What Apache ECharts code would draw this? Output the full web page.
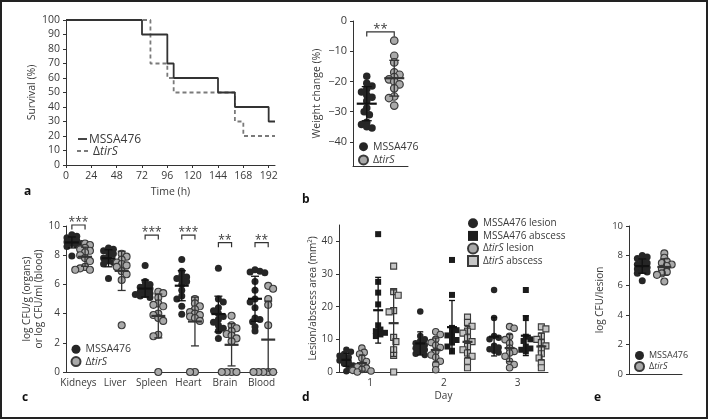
<!DOCTYPE html>
<html><head><meta charset="utf-8">
<script src="https://cdn.jsdelivr.net/npm/echarts@6/dist/echarts.min.js"></script>
<style>html,body{margin:0;padding:0;background:#fff}#c{width:708px;height:419px}</style>
</head><body><div id="c"></div>
<script>
// ---------- Panel a: survival ----------
const survTimeMSSA = [0, 72, 96, 102, 144, 160, 192, 198];
const survMSSA     = [100, 90, 70, 60, 50, 40, 30, 30];
const survTimeTirS = [0, 80, 96, 102, 160, 168, 198];
const survTirS     = [100, 70, 60, 50, 30, 20, 20];
const timeTicks    = [0, 24, 48, 72, 96, 120, 144, 168, 192];
// ---------- Panel b: weight change ----------
const weightMSSA = [-18.3, -20.6, -21.5, -22.5, -23.5, -24.5, -25.2, -26.5, -28.8, -30.0, -31.0, -33.5, -34.3, -35.0, -35.4];
const weightTirS = [-6.5, -11.5, -13.7, -17.0, -17.8, -18.6, -19.3, -20.0, -21.0, -22.3, -25.0, -25.5, -28.0];
const weightTicks = [0, -10, -20, -30, -40];
// ---------- Panel c: organ CFU ----------
const organs = ['Kidneys', 'Liver', 'Spleen', 'Heart', 'Brain', 'Blood'];
const cfuMSSA = [
  [9.4, 9.3, 9.2, 9.1, 9.0, 9.0, 8.9, 8.8, 8.8, 8.7, 8.6, 8.6, 7.95],
  [8.5, 8.4, 8.3, 8.2, 8.1, 7.9, 7.8, 7.6, 7.5, 7.4, 7.4, 6.4],
  [7.3, 6.2, 6.0, 5.9, 5.8, 5.7, 5.6, 5.5, 5.4, 5.3, 5.3, 5.2, 5.1],
  [7.7, 6.9, 6.6, 6.5, 6.4, 6.3, 6.2, 6.0, 5.6, 5.2, 5.0, 4.5, 3.95],
  [7.1, 5.0, 4.8, 4.4, 4.2, 4.0, 3.8, 3.6, 3.4, 3.2, 3.0, 2.8, 2.3],
  [7.0, 6.9, 6.85, 6.8, 6.2, 5.6, 5.0, 4.8, 4.4, 3.7, 3.6, 3.45, 3.1, 2.8]
];
const cfuTirS = [
  [8.8, 8.7, 8.5, 8.4, 8.3, 8.2, 8.0, 7.8, 7.6, 7.2, 7.1, 7.0, 7.0],
  [8.1, 7.9, 7.7, 7.5, 7.4, 7.3, 7.2, 6.9, 6.7, 6.3, 3.2],
  [5.5, 5.4, 5.1, 4.7, 4.6, 4.5, 4.0, 3.9, 3.7, 3.5, 2.55, 2.45, 0],
  [5.0, 4.7, 4.5, 4.3, 4.1, 4.0, 3.9, 3.8, 3.7, 3.5, 0, 0],
  [3.85, 3.2, 3.0, 2.8, 2.6, 2.5, 2.3, 2.1, 0, 0, 0, 0],
  [5.9, 5.7, 5.0, 4.6, 3.2, 0, 0, 0, 0, 0, 0]
];
const organSig = ['***', '', '***', '***', '**', '**'];
// ---------- Panel d: lesion / abscess area ----------
const days = [1, 2, 3];
const lesionMSSA = [
  [6.8, 6.2, 5.5, 5.0, 4.5, 4.0, 3.5, 3.0, 2.5, 2.0, 1.5, 0.2],
  [18.5, 11.0, 10.0, 9.5, 8.8, 8.3, 7.8, 7.3, 6.8, 6.2, 5.6, 5.2],
  [25.1, 16.5, 11.0, 10.5, 10.0, 8.0, 7.5, 7.0, 6.5, 6.0]
];
const abscessMSSA = [
  [42.2, 27.6, 24.3, 20.7, 14.3, 13.0, 12.5, 12.0, 11.5, 11.0],
  [34.3, 23.6, 13.5, 12.8, 12.0, 11.2, 10.5, 9.8, 9.0, 7.8, 6.5],
  [25.1, 16.5, 10.8, 10.0, 9.5, 7.8, 7.2, 6.8, 6.3]
];
const lesionTirS = [
  [7.3, 6.0, 5.5, 4.2, 3.2, 2.2, 1.6, 1.2, 0.8, 0.5, 0.3, 0.0],
  [12.3, 11.5, 10.0, 9.0, 8.2, 7.5, 6.3, 5.2, 4.5, 3.3, 2.3, 0.7],
  [13.9, 13.4, 10.9, 9.9, 8.8, 7.3, 6.3, 5.8, 4.8, 3.3, 2.3, 1.3]
];
const abscessTirS = [
  [32.4, 24.6, 23.5, 18.8, 18.4, 10.6, 9.3, 6.8, 5.1, 0],
  [16.8, 15.2, 14.0, 12.5, 11.9, 10.5, 9.3, 7.8, 6.8, 5.8, 4.8, 3.3, 1.3],
  [13.8, 13.2, 11.0, 10.0, 9.0, 8.0, 7.0, 5.6, 4.3, 2.8, 1.3]
];
const areaTicks = [0, 10, 20, 30, 40];
// ---------- Panel e: CFU per lesion ----------
const lesionCfuMSSA = [8.0, 7.9, 7.8, 7.6, 7.5, 7.4, 7.3, 7.2, 7.1, 7.0, 6.9, 6.8, 6.3];
const lesionCfuTirS = [8.15, 7.85, 7.6, 7.5, 7.4, 7.3, 7.1, 6.9, 6.8, 6.7, 6.25];

// ================= layout / style =================
const FONT = 'Open Sans';
const TXT = '#3a3a3a';
const AX = '#333';
const DARK = '#262626', GREY = '#a9a9a9', GREYSQ = '#c6c6c6', EDGE = '#3a3a3a';

const G = {
  a: {left: 66, top: 20, width: 209, height: 145},
  b: {left: 353, top: 21, width: 55, height: 145},
  c: {left: 66, top: 226, width: 211, height: 146},
  d: {left: 339, top: 225, width: 209, height: 147},
  e: {left: 629, top: 226, width: 53, height: 148}
};
const X = {b: [-0.5, 1.5], c: [-0.34, 5.42], d: [0.58, 3.41], e: [-0.6, 1.8]};
const Y = {b: [-48, 0], c: [0, 10], d: [0, 45], e: [0, 10]};
function kx(p) { return G[p].width / (X[p][1] - X[p][0]); }
function ky(p) { return G[p].height / (Y[p][1] - Y[p][0]); }

function mean(a) { return a.reduce((s, v) => s + v, 0) / a.length; }
function sd(a) { const m = mean(a); return Math.sqrt(a.reduce((s, v) => s + (v - m) * (v - m), 0) / (a.length - 1)); }

// beeswarm layout in pixel space (layout only; values untouched)
function swarm(vals, cx, p, d, tf) {
  const KX = kx(p), KY = ky(p);
  const order = vals.map((v, i) => i).sort((a, b) => vals[b] - vals[a]);
  const placed = [], out = [];
  const step = d * 0.35, thr = d * (tf || 0.7);
  let flip = 1;
  order.forEach(i => {
    const y = vals[i] * KY;
    let off = 0;
    for (let k = 0; k < 80; k++) {
      const o = k === 0 ? 0 : (k % 2 ? flip : -flip) * Math.ceil(k / 2) * step;
      if (placed.every(q => Math.hypot(q[0] - o, q[1] - y) >= thr)) { off = o; break; }
    }
    if (off !== 0) flip = -flip;
    placed.push([off, y]);
    out.push([cx + off / KX, vals[i]]);
  });
  return out;
}

function scatter(name, idx, pts, symbol, size, fill, border, bw) {
  return {type: 'scatter', name, xAxisIndex: idx, yAxisIndex: idx, data: pts, symbol, symbolSize: size,
    itemStyle: {color: fill, borderColor: border, borderWidth: bw, opacity: 1}, z: 3, silent: true};
}

function errbars(idx, items, color, meanHalf, capHalf, yFloor) {
  return {type: 'custom', xAxisIndex: idx, yAxisIndex: idx, data: items, clip: false, z: 6, silent: true,
    encode: {x: 0, y: 1},
    renderItem(params, api) {
      const x = api.value(0), m = api.value(1), s = api.value(2);
      const lo = Math.max(m - s, yFloor), hi = m + s;
      const pm = api.coord([x, m]), ph = api.coord([x, hi]), pl = api.coord([x, lo]);
      const st = {stroke: color, lineWidth: 1.3};
      const ch = [
        {type: 'line', shape: {x1: pm[0], y1: ph[1], x2: pm[0], y2: pl[1]}, style: st},
        {type: 'line', shape: {x1: pm[0] - capHalf, y1: ph[1], x2: pm[0] + capHalf, y2: ph[1]}, style: st},
        {type: 'line', shape: {x1: pm[0] - meanHalf, y1: pm[1], x2: pm[0] + meanHalf, y2: pm[1]}, style: {stroke: color, lineWidth: 2.2}}
      ];
      if (m - s > yFloor) ch.push({type: 'line', shape: {x1: pm[0] - capHalf, y1: pl[1], x2: pm[0] + capHalf, y2: pl[1]}, style: st});
      return {type: 'group', children: ch};
    }};
}

function brackets(idx, items, labels, fs) {
  return {type: 'custom', xAxisIndex: idx, yAxisIndex: idx, data: items, clip: false, z: 6, silent: true,
    encode: {x: 0, y: 2},
    renderItem(params, api) {
      const p1 = api.coord([api.value(0), api.value(2)]), p2 = api.coord([api.value(1), api.value(2)]);
      return {type: 'group', children: [
        {type: 'polyline', shape: {points: [[p1[0], p1[1] + 4.5], [p1[0], p1[1]], [p2[0], p2[1]], [p2[0], p2[1] + 4.5]]},
          style: {stroke: AX, lineWidth: 1.2, fill: null}},
        {type: 'text', x: (p1[0] + p2[0]) / 2, y: p1[1] + 4,
          style: {text: labels[params.dataIndex], fontSize: fs, fontFamily: FONT, fill: TXT, align: 'center', verticalAlign: 'bottom'}}
      ]};
    }};
}

function grid(p) { return Object.assign({outerBoundsMode: 'none', containLabel: false}, G[p]); }
function axisBase(idx, fs) {
  return {gridIndex: idx, axisLine: {show: true, onZero: false, lineStyle: {color: AX, width: 1}},
    axisTick: {show: true, length: 3, lineStyle: {color: AX}},
    axisLabel: {color: TXT, fontSize: fs, fontFamily: FONT},
    splitLine: {show: false},
    nameTextStyle: {color: TXT, fontFamily: FONT}};
}
function richName(fs) {
  return {it: {fontStyle: 'italic', fontSize: fs, fontFamily: FONT, color: TXT}};
}
function legendFmt(name) { return name.split('|')[0].replace('tirS', '{it|tirS}'); }
function legend(names, left, top, fs, lh, iw, ih) {
  return {data: names, orient: 'vertical', left, top, padding: 0, itemGap: 0, itemWidth: iw, itemHeight: ih,
    selectedMode: false, formatter: legendFmt,
    textStyle: {color: TXT, fontSize: fs, fontFamily: FONT, lineHeight: lh, rich: richName(fs)}};
}

// ================= axes =================
const xAxes = [
  Object.assign(axisBase(0, 10.5), {type: 'value', min: 0, max: 198, name: 'Time (h)', nameLocation: 'middle', nameGap: 22,
    nameTextStyle: {color: TXT, fontFamily: FONT, fontSize: 10.5},
    axisLabel: {color: TXT, fontSize: 10.5, fontFamily: FONT, margin: 6, customValues: timeTicks},
    axisTick: {show: true, length: 3, lineStyle: {color: AX}, customValues: timeTicks}}),
  Object.assign(axisBase(1, 10), {type: 'value', min: X.b[0], max: X.b[1], axisLabel: {show: false}, axisTick: {show: false}}),
  Object.assign(axisBase(2, 10), {type: 'value', min: X.c[0], max: X.c[1], axisTick: {show: false},
    axisLabel: {color: TXT, fontSize: 10, fontFamily: FONT, margin: 6, customValues: organs.map((o, i) => i),
      formatter: v => organs[Math.round(v)]}}),
  Object.assign(axisBase(3, 10), {type: 'value', min: X.d[0], max: X.d[1], axisTick: {show: false},
    name: 'Day', nameLocation: 'middle', nameGap: 19, nameTextStyle: {color: TXT, fontFamily: FONT, fontSize: 10},
    axisLabel: {color: TXT, fontSize: 10, fontFamily: FONT, margin: 6, customValues: days}}),
  Object.assign(axisBase(4, 10), {type: 'value', min: X.e[0], max: X.e[1], axisLabel: {show: false}, axisTick: {show: false}})
];
const yAxes = [
  Object.assign(axisBase(0, 10.5), {type: 'value', min: 0, max: 100, interval: 10, name: 'Survival (%)', nameLocation: 'middle',
    nameGap: 28, nameTextStyle: {color: TXT, fontFamily: FONT, fontSize: 10.5},
    axisLabel: {color: TXT, fontSize: 10.5, fontFamily: FONT, margin: 6}}),
  Object.assign(axisBase(1, 11), {type: 'value', min: Y.b[0], max: Y.b[1], name: 'Weight change (%)', nameLocation: 'middle',
    nameGap: 30, nameTextStyle: {color: TXT, fontFamily: FONT, fontSize: 10.5},
    axisLabel: {color: TXT, fontSize: 11, fontFamily: FONT, margin: 6, customValues: weightTicks,
      formatter: v => v < 0 ? '\u2212' + Math.abs(v) : String(v)},
    axisTick: {show: true, length: 3, lineStyle: {color: AX}, customValues: weightTicks}}),
  Object.assign(axisBase(2, 10), {type: 'value', min: Y.c[0], max: Y.c[1], interval: 2,
    name: 'log CFU/g (organs)\nor log CFU/ml (blood)', nameLocation: 'middle', nameGap: 20,
    nameTextStyle: {color: TXT, fontFamily: FONT, fontSize: 10, lineHeight: 12},
    axisLabel: {color: TXT, fontSize: 10, fontFamily: FONT, margin: 6}}),
  Object.assign(axisBase(3, 10), {type: 'value', min: Y.d[0], max: Y.d[1], name: 'Lesion/abscess area (mm\u00B2)',
    nameLocation: 'middle', nameGap: 20, nameTextStyle: {color: TXT, fontFamily: FONT, fontSize: 10},
    axisLabel: {color: TXT, fontSize: 10, fontFamily: FONT, margin: 6, customValues: areaTicks},
    axisTick: {show: true, length: 3, lineStyle: {color: AX}, customValues: areaTicks}}),
  Object.assign(axisBase(4, 9.5), {type: 'value', min: Y.e[0], max: Y.e[1], interval: 2, name: 'log CFU/lesion',
    nameLocation: 'middle', nameGap: 24, nameTextStyle: {color: TXT, fontFamily: FONT, fontSize: 10},
    axisLabel: {color: TXT, fontSize: 9.5, fontFamily: FONT, margin: 6}})
];

// ================= series =================
const series = [];
// a
const lineA = {color: '#333', width: 1.8};
const lineT = {color: '#7a7a7a', width: 1.8, type: [4, 3]};
series.push({type: 'line', name: 'MSSA476|a', xAxisIndex: 0, yAxisIndex: 0, step: 'end', symbol: 'none', z: 3,
  data: survTimeMSSA.map((t, i) => [t, survMSSA[i]]), lineStyle: lineA, itemStyle: {color: '#333'}});
series.push({type: 'line', name: '\u0394tirS|a', xAxisIndex: 0, yAxisIndex: 0, step: 'end', symbol: 'none', z: 2,
  data: survTimeTirS.map((t, i) => [t, survTirS[i]]), lineStyle: lineT, itemStyle: {color: '#7a7a7a'}});
// b
series.push(scatter('MSSA476|b', 1, swarm(weightMSSA, 0, 'b', 7.5, 0.55), 'circle', 7.5, DARK, DARK, 0));
series.push(scatter('\u0394tirS|b', 1, swarm(weightTirS, 1, 'b', 7.5, 0.55), 'circle', 7.5, GREY, EDGE, 1.2));
series.push(errbars(1, [[0, mean(weightMSSA), sd(weightMSSA)]], '#111', 10, 5, -1e9));
series.push(errbars(1, [[1, mean(weightTirS), sd(weightTirS)]], '#333', 10, 5, -1e9));
series.push(brackets(1, [[0, 1, -3.6]], ['**'], 13));
// c
const cM = [], cT = [];
organs.forEach((o, i) => {
  cM.push(...swarm(cfuMSSA[i], i - 0.18, 'c', 7, 0.62));
  cT.push(...swarm(cfuTirS[i], i + 0.18, 'c', 7, 0.62));
});
series.push(scatter('MSSA476|c', 2, cM, 'circle', 7, DARK, DARK, 0));
series.push(scatter('\u0394tirS|c', 2, cT, 'circle', 7, GREY, EDGE, 1.1));
series.push(errbars(2, organs.map((o, i) => [i - 0.18, mean(cfuMSSA[i]), sd(cfuMSSA[i])]), '#111', 7, 4, 0));
series.push(errbars(2, organs.map((o, i) => [i + 0.18, mean(cfuTirS[i]), sd(cfuTirS[i])]), '#333', 7, 4, 0));
const sigLevel = [10.07, 0, 9.38, 9.38, 8.86, 8.86];
const sigIdx = organs.map((o, i) => i).filter(i => organSig[i]);
series.push(brackets(2, sigIdx.map(i => [i - 0.18, i + 0.18, sigLevel[i]]), sigIdx.map(i => organSig[i]), 12));
// d
const dOff = [-0.32, -0.11, 0.11, 0.32];
const dSets = [lesionMSSA, lesionTirS, abscessMSSA, abscessTirS];
const dNames = ['MSSA476 lesion|d', '\u0394tirS lesion|d', 'MSSA476 abscess|d', '\u0394tirS abscess|d'];
const dSym = ['circle', 'circle', 'rect', 'rect'];
const dFill = [DARK, GREY, '#1c1c1c', GREYSQ];
const dEdge = [DARK, EDGE, '#1c1c1c', EDGE];
const dBw = [0, 1.1, 0, 1.1];
const dBar = ['#111', '#333', '#111', '#333'];
dSets.forEach((set, s) => {
  const pts = [];
  days.forEach((day, j) => pts.push(...swarm(set[j], day + dOff[s], 'd', 6.5, 0.7)));
  series.push(scatter(dNames[s], 3, pts, dSym[s], s >= 2 ? 6 : 6.5, dFill[s], dEdge[s], dBw[s]));
  series.push(errbars(3, days.map((day, j) => [day + dOff[s], mean(set[j]), sd(set[j])]), dBar[s], 5, 3, 0));
});
// e
series.push(scatter('MSSA476|e', 4, swarm(lesionCfuMSSA, 0, 'e', 7, 0.62), 'circle', 7, DARK, DARK, 0));
series.push(scatter('\u0394tirS|e', 4, swarm(lesionCfuTirS, 1, 'e', 7, 0.62), 'circle', 7, GREY, EDGE, 1.1));
series.push(errbars(4, [[0, mean(lesionCfuMSSA), sd(lesionCfuMSSA)]], '#111', 7, 4, 0));
series.push(errbars(4, [[1, mean(lesionCfuTirS), sd(lesionCfuTirS)]], '#333', 7, 4, 0));

// ================= legends =================
const legends = [
  legend(['MSSA476|b', '\u0394tirS|b'], 358, 140, 10.5, 13.3, 9, 9),
  legend(['MSSA476|c', '\u0394tirS|c'], 70.5, 343, 10.5, 12.4, 9, 9),
  legend(['MSSA476 lesion|d', 'MSSA476 abscess|d', '\u0394tirS lesion|d', '\u0394tirS abscess|d'], 467, 217, 10, 12.6, 10, 10),
  legend(['MSSA476|e', '\u0394tirS|e'], 634, 350, 9, 11, 9, 9)
];

// ================= panel a key, letters & frame =================
function letter(t, x, y) {
  return {type: 'text', x, y, style: {text: t, fontSize: 12, fontWeight: 'bold', fontFamily: FONT, fill: '#111', verticalAlign: 'middle'}};
}
function keyText(t, x, y) {
  return {type: 'text', x, y, style: {text: t, fontSize: 12, fontFamily: FONT, fill: TXT, verticalAlign: 'middle', rich: richName(12)}};
}
const graphics = [
  {type: 'rect', shape: {x: 1, y: 1, width: 706, height: 417}, style: {stroke: '#222', lineWidth: 2, fill: null}, z: 100},
  {type: 'line', shape: {x1: 78, y1: 139, x2: 87, y2: 139}, style: {stroke: lineA.color, lineWidth: lineA.width}},
  keyText('MSSA476', 89, 139.5),
  {type: 'line', shape: {x1: 77, y1: 151, x2: 91, y2: 151}, style: {stroke: lineT.color, lineWidth: lineT.width, lineDash: lineT.type}},
  keyText('\u0394{it|tirS}', 93, 151.5),
  letter('a', 24, 192), letter('b', 302, 200), letter('c', 22, 398), letter('d', 302, 398), letter('e', 594, 398)
];

const chart = echarts.init(document.getElementById('c'), null, {renderer: 'canvas'});
chart.setOption({
  animation: false,
  backgroundColor: '#fff',
  textStyle: {fontFamily: FONT},
  grid: ['a', 'b', 'c', 'd', 'e'].map(grid),
  xAxis: xAxes,
  yAxis: yAxes,
  legend: legends,
  series,
  graphic: graphics
});
</script></body></html>
